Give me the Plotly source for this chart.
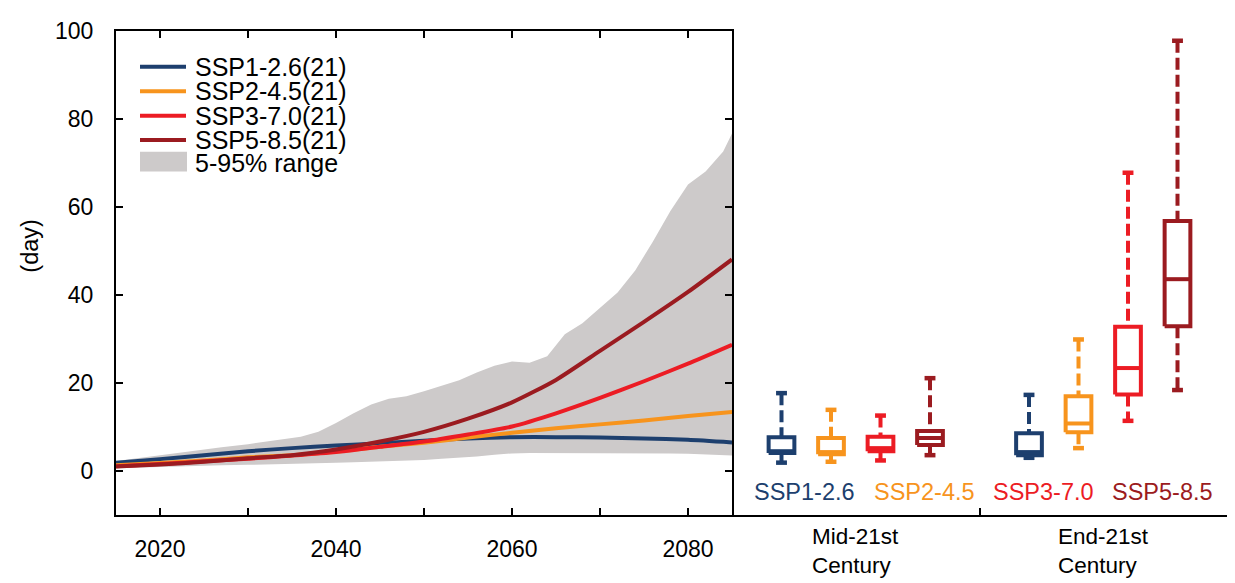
import plotly.graph_objects as go

W, H = 1235, 583

# ---- time series: ensemble medians (days) ----
years = [2015, 2020, 2025, 2030, 2035, 2040, 2045, 2050,
         2055, 2060, 2065, 2070, 2075, 2080, 2085]
ssp126 = [1.8, 2.6, 3.5, 4.4, 5.1, 5.7, 6.2, 6.8, 7.3, 7.6, 7.6, 7.5, 7.3, 7.0, 6.4]
ssp245 = [1.2, 1.7, 2.3, 3.0, 3.5, 4.3, 5.4, 6.3, 7.5, 8.6, 9.6, 10.5, 11.4, 12.4, 13.3]
ssp370 = [1.0, 1.5, 2.1, 2.7, 3.4, 4.2, 5.4, 6.6, 8.2, 10.0, 13.0, 16.5, 20.3, 24.3, 28.6]
ssp585 = [0.9, 1.4, 2.0, 2.8, 3.5, 4.8, 6.6, 8.8, 11.8, 15.5, 20.6, 27.2, 33.8, 40.6, 48.0]

# ---- 5-95% ensemble range ----
band_years = [2015, 2018, 2021, 2024, 2027, 2030, 2033, 2036, 2038, 2040, 2042,
              2044, 2046, 2048, 2050, 2052, 2054, 2056, 2058, 2060, 2062, 2064,
              2066, 2068, 2070, 2072, 2074, 2076, 2078, 2080, 2082, 2084, 2085]
band_lo = [0.5, 0.7, 0.9, 1.0, 1.2, 1.3, 1.4, 1.6, 1.7, 1.8, 1.9,
           2.0, 2.1, 2.3, 2.4, 2.7, 2.9, 3.2, 3.6, 3.9, 4.0, 4.0,
           3.9, 3.9, 3.9, 4.0, 4.0, 3.9, 3.9, 3.8, 3.6, 3.5, 3.4]
band_hi = [2.2, 3.0, 3.8, 4.6, 5.3, 6.0, 6.8, 7.7, 8.8, 10.8, 13.0,
           15.0, 16.3, 16.9, 18.0, 19.2, 20.5, 22.3, 23.8, 24.8, 24.5, 26.0,
           31.0, 33.5, 37.0, 40.5, 45.5, 52.0, 59.0, 65.0, 68.0, 72.5, 76.6]

scenarios = ["SSP1-2.6", "SSP2-4.5", "SSP3-7.0", "SSP5-8.5"]
n_models = 21
colors = ["#1d3f6e", "#f7941d", "#ec1c24", "#9b1b20"]
band_color = "#cdcaca"
series = [ssp126, ssp245, ssp370, ssp585]

# ---- box statistics per period (whisker low, q1, median, q3, whisker high) ----
periods = ["Mid-21st<br>Century", "End-21st<br>Century"]
mid_low = [1.8, 2.0, 2.3, 3.5]
mid_q1 = [4.0, 3.7, 4.4, 5.8]
mid_med = [4.4, 4.2, 5.1, 7.4]
mid_q3 = [7.6, 7.4, 7.7, 9.0]
mid_high = [17.6, 13.8, 12.5, 21.0]
end_low = [2.9, 5.1, 11.3, 18.3]
end_q1 = [3.5, 8.7, 17.3, 32.8]
end_med = [4.2, 10.7, 23.3, 43.5]
end_q3 = [8.5, 16.9, 32.7, 56.7]
end_high = [17.2, 29.8, 67.7, 97.7]

FONT = "Liberation Sans, Arial, sans-serif"
fig = go.Figure()

# shaded range
fig.add_trace(go.Scatter(x=band_years, y=band_lo, mode="lines", line=dict(width=0),
                         showlegend=False, hoverinfo="skip", xaxis="x", yaxis="y"))
fig.add_trace(go.Scatter(x=band_years, y=band_hi, mode="lines", line=dict(width=0),
                         fill="tonexty", fillcolor=band_color, showlegend=False,
                         hoverinfo="skip", xaxis="x", yaxis="y"))

# scenario medians
for name, vals, col in zip(scenarios, series, colors):
    fig.add_trace(go.Scatter(x=years, y=vals, mode="lines", name=f"{name}({n_models})",
                             line=dict(color=col, width=4, shape="spline", smoothing=0.6),
                             showlegend=False, xaxis="x", yaxis="y"))

# box plots in the right panel
HW, CW = 0.26, 0.11


def add_box(xc, lo, q1, med, q3, hi, col):
    fig.add_trace(go.Scatter(x=[xc, xc, None, xc, xc], y=[hi, q3, None, q1, lo],
                             mode="lines", line=dict(color=col, width=4, dash="12px,5px"),
                             showlegend=False, hoverinfo="skip", xaxis="x2", yaxis="y2"))
    fig.add_trace(go.Scatter(x=[xc - CW, xc + CW, None, xc - CW, xc + CW],
                             y=[hi, hi, None, lo, lo], mode="lines",
                             line=dict(color=col, width=4.5),
                             showlegend=False, hoverinfo="skip", xaxis="x2", yaxis="y2"))
    fig.add_trace(go.Scatter(x=[xc - HW, xc + HW, xc + HW, xc - HW, xc - HW, None, xc - HW, xc + HW],
                             y=[q1, q1, q3, q3, q1, None, med, med], mode="lines",
                             fill="none", line=dict(color=col, width=4),
                             showlegend=False, hoverinfo="skip", xaxis="x2", yaxis="y2"))


mid_pos = [1, 2, 3, 4]
end_pos = [6, 7, 8, 9]
for i, col in enumerate(colors):
    add_box(mid_pos[i], mid_low[i], mid_q1[i], mid_med[i], mid_q3[i], mid_high[i], col)
    add_box(end_pos[i], end_low[i], end_q1[i], end_med[i], end_q3[i], end_high[i], col)

# axes geometry (pixels)
L, M, R, T, B = 116, 732, 1227, 18, 513
ydom = [1 - B / H, 1 - T / H]
year_ticks = [2020, 2030, 2040, 2050, 2060, 2070, 2080]
year_text = ["2020", "", "2040", "", "2060", "", "2080"]
axis_common = dict(showline=True, linecolor="black", linewidth=2, ticks="inside",
                   ticklen=7, tickwidth=2, tickcolor="black", showgrid=False,
                   zeroline=False, tickfont=dict(family=FONT, size=23, color="black"))

fig.update_layout(
    width=W, height=H, margin=dict(l=0, r=0, t=0, b=0),
    paper_bgcolor="white", plot_bgcolor="white", showlegend=False,
    xaxis=dict(domain=[L / W, M / W], range=[2015, 2085], tickvals=year_ticks,
               ticktext=year_text, mirror="ticks", anchor="y", ticklabelstandoff=13,
               **axis_common),
    yaxis=dict(domain=ydom, range=[-10, 100], tickvals=[0, 20, 40, 60, 80, 100],
               mirror="ticks", anchor="x", ticklabelstandoff=16, **axis_common),
    xaxis2=dict(domain=[M / W, R / W], range=[0, 10], tickvals=[0, 5, 10],
                showticklabels=False, anchor="y2", **axis_common),
    yaxis2=dict(domain=ydom, range=[-10, 100], anchor="x2", visible=False),
)

ann = []
# y-axis title
ann.append(dict(x=30 / W, y=1 - 238 / H, xref="paper", yref="paper", text="(day)",
                xanchor="center", yanchor="middle", textangle=-90, showarrow=False,
                font=dict(family=FONT, size=23.5, color="black")))
# scenario labels under the boxes
label_pos = [1.47, 3.88, 6.29, 8.69]
for name, col, xp in zip(scenarios, colors, label_pos):
    ann.append(dict(x=xp, y=-4.9, xref="x2", yref="y2", text=name, showarrow=False,
                    xanchor="center", yanchor="middle",
                    font=dict(family=FONT, size=23.5, color=col)))
# period labels
for name, xp in zip(periods, [2.5, 7.5]):
    ann.append(dict(x=xp, y=1 - 521 / H, xref="x2", yref="paper", text=name, showarrow=False,
                    xanchor="center", yanchor="top", align="left",
                    font=dict(family=FONT, size=22.5, color="black")))

# legend (drawn inside the time-series panel)
leg_rows = [55, 80, 105, 130]
for name, col, ry in zip(scenarios, colors, leg_rows):
    fig.add_shape(type="line", xref="paper", yref="paper", x0=140 / W, x1=186 / W,
                  y0=1 - ry / H, y1=1 - ry / H, line=dict(color=col, width=4))
    ann.append(dict(x=193 / W, y=1 - ry / H, xref="paper", yref="paper", xanchor="left",
                    yanchor="middle", text=f"{name}({n_models})", showarrow=False,
                    font=dict(family=FONT, size=25, color="black")))
fig.add_shape(type="rect", xref="paper", yref="paper", x0=140 / W, x1=187 / W,
              y0=1 - 162 / H, y1=1 - 142 / H, line=dict(width=0), fillcolor=band_color)
ann.append(dict(x=193 / W, y=1 - 153 / H, xref="paper", yref="paper", xanchor="left",
                yanchor="middle", text="5-95% range", showarrow=False,
                font=dict(family=FONT, size=25, color="black")))

fig.update_layout(annotations=ann)
fig.write_html("out.html")
